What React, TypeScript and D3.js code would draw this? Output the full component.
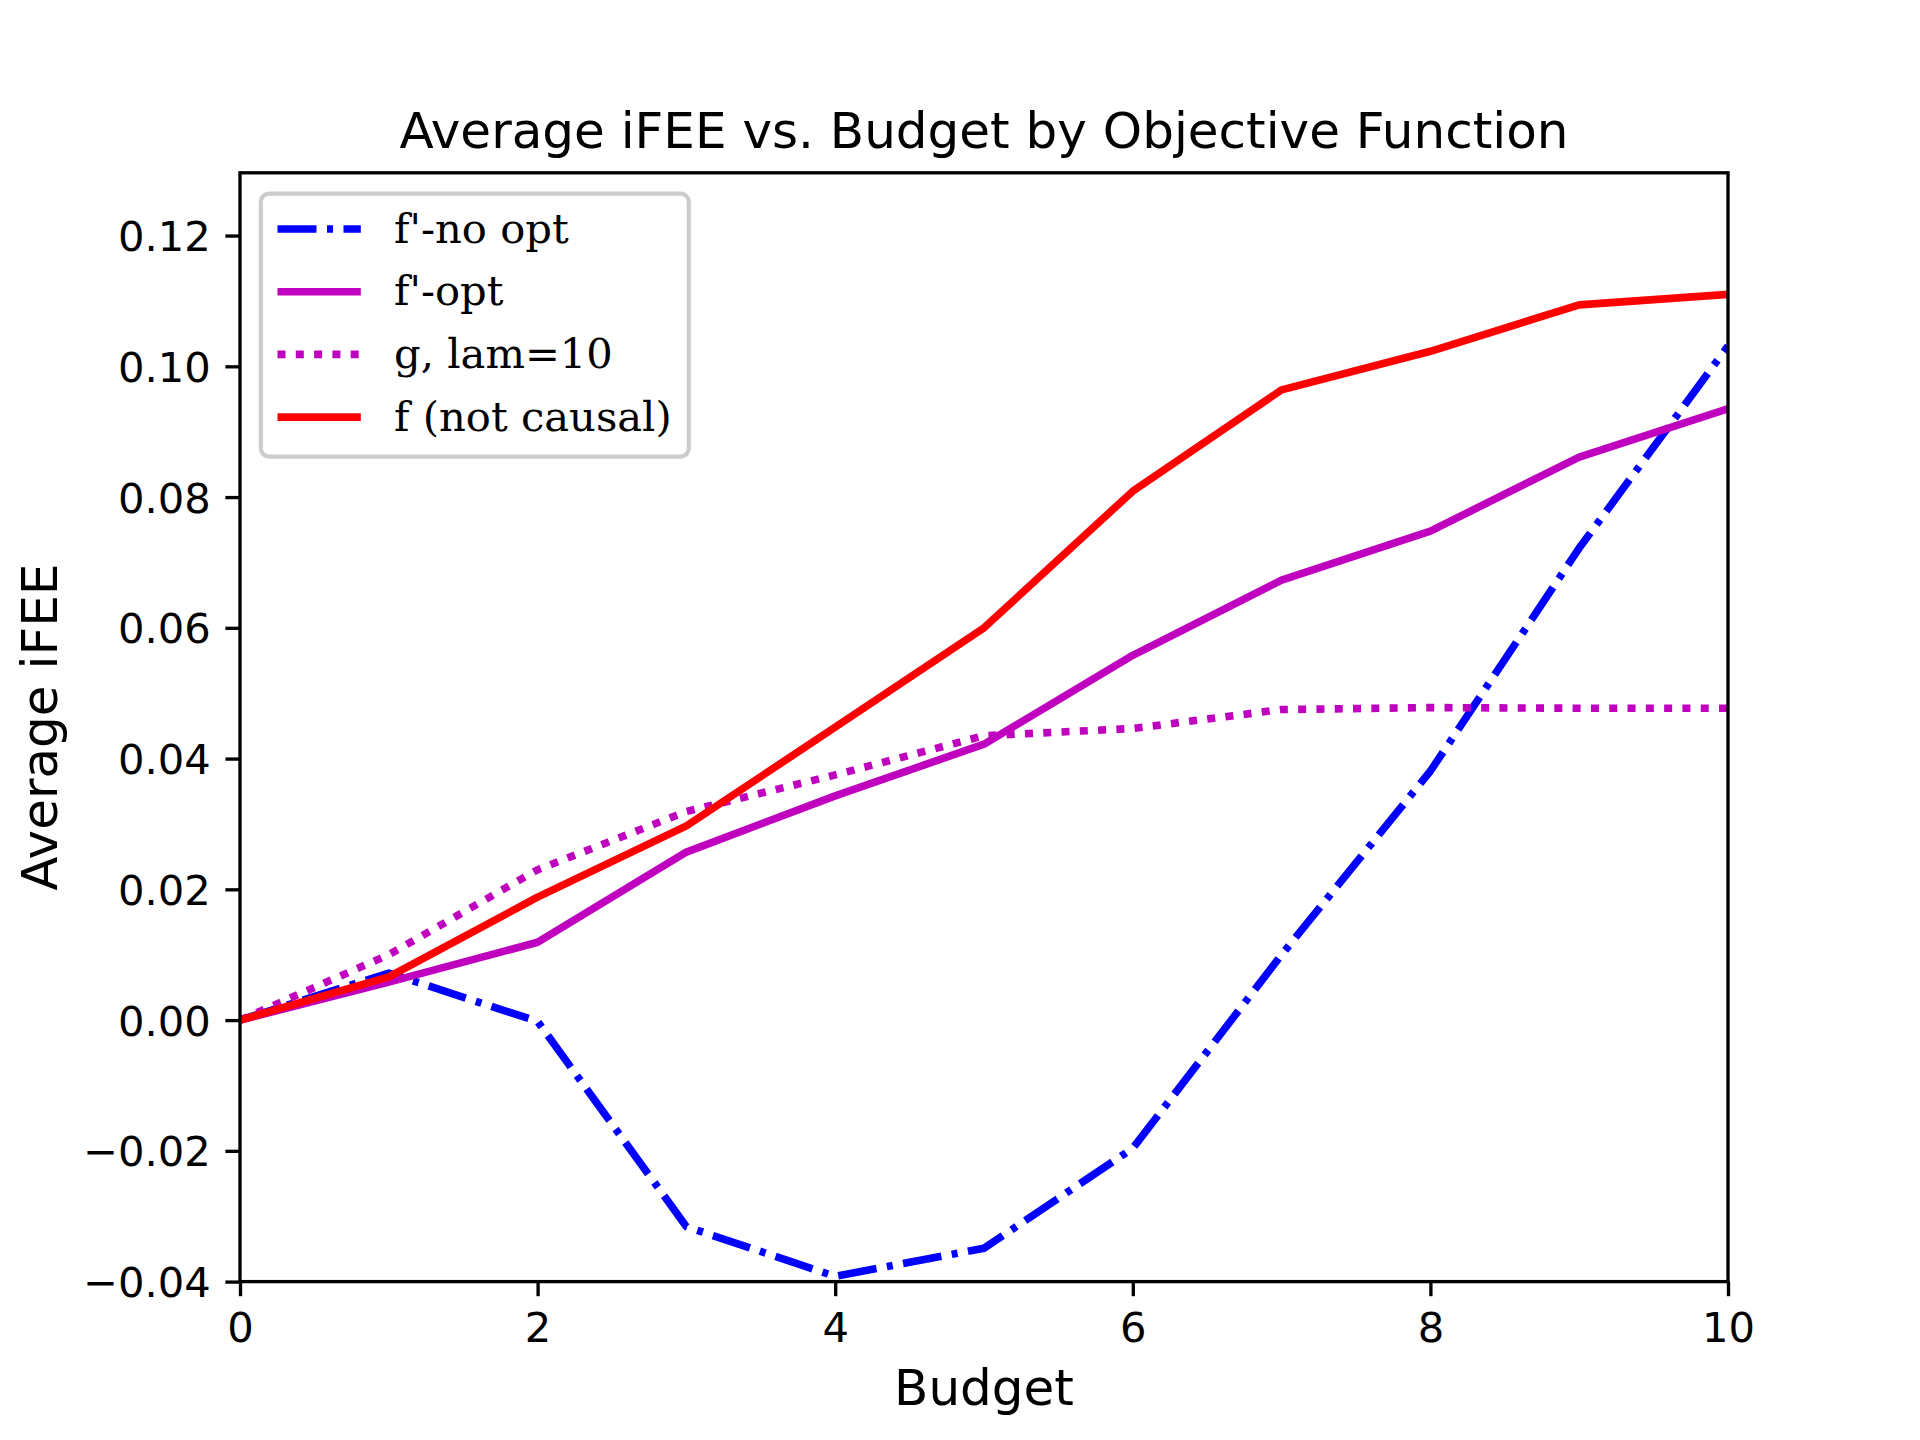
import React, { useEffect, useRef } from "react";
import * as d3 from "d3";

// values
const budget = [0, 1, 2, 3, 4, 5, 6, 7, 8, 9, 10];
const fNoOpt = [0, 0.0072, -0.0002, -0.0316, -0.0392, -0.0349, -0.0196, 0.01, 0.0381, 0.0722, 0.1031];
const fOpt = [0, 0.0058, 0.0119, 0.0257, 0.0343, 0.0422, 0.0558, 0.0673, 0.0748, 0.0861, 0.0935];
const gLam = [0, 0.01, 0.023, 0.0319, 0.0375, 0.0435, 0.0446, 0.0475, 0.0478, 0.0477, 0.0477];
const fNotCausal = [0, 0.0066, 0.0188, 0.0297, 0.0448, 0.06, 0.0809, 0.0964, 0.1023, 0.1094, 0.111];

const seriesLabels = ["f'-no opt", "f'-opt", "g, lam=10", "f (not causal)"];
const seriesColors = ["#0000ff", "#bf00bf", "#bf00bf", "#ff0000"];
const seriesDash = ["39,10.5,6,10.5", null, "8,10.3", null];
const seriesValues = [fNoOpt, fOpt, gLam, fNotCausal];

const xDomain = [0, 10];
const yDomain = [-0.04, 0.1296];

const W = 1920;
const H = 1440;
const margin = { top: 172.8, right: 192, bottom: 158.4, left: 240 };
const innerW = W - margin.left - margin.right;
const innerH = H - margin.top - margin.bottom;

const sans = "'DejaVu Sans', sans-serif";
const serif = "'DejaVu Serif', serif";
const tickFont = 41.67;
const labelFont = 50;
const lw = 7.6;

const App: React.FC = () => {
  const xAxisRef = useRef<SVGGElement | null>(null);
  const yAxisRef = useRef<SVGGElement | null>(null);

  const x = d3.scaleLinear().domain(xDomain).range([0, innerW]);
  const y = d3.scaleLinear().domain(yDomain).range([innerH, 0]);

  const line = d3
    .line<number>()
    .x((_, i) => x(budget[i]))
    .y((d) => y(d));

  useEffect(() => {
    if (!xAxisRef.current || !yAxisRef.current) return;
    const gx = d3.select(xAxisRef.current);
    gx.call(d3.axisBottom(x).ticks(6).tickSize(14.6).tickPadding(14.6).tickFormat(d3.format("d")));
    const gy = d3.select(yAxisRef.current);
    gy.call(d3.axisLeft(y).ticks(10).tickSize(14.6).tickPadding(14.6).tickFormat(d3.format(".2f")));

    for (const g of [gx, gy]) {
      g.attr("font-family", sans).attr("font-size", tickFont);
      g.select(".domain").remove();
      g.selectAll(".tick line").attr("stroke", "#000").attr("stroke-width", 3.33);
      g.selectAll(".tick text").attr("fill", "#000");
    }
    gx.selectAll(".tick text").attr("dy", "0.76em");
    gy.selectAll(".tick text").attr("dy", "0.36em");
  }, []);

  // legend layout (matplotlib-ish units at 300 dpi)
  const legX = 20.8;
  const legY = 20.8;
  const legW = 428;
  const legH = 263;
  const rowStep = 62.7;

  return (
    <div style={{ position: "absolute", left: 0, top: 0 }}>
      <svg width={W} height={H} style={{ display: "block", background: "#fff" }}>
        <rect width={W} height={H} fill="#fff" />
        <defs>
          <clipPath id="plot-clip">
            <rect width={innerW} height={innerH} />
          </clipPath>
        </defs>
        <text x={margin.left + innerW / 2} y={147.8} textAnchor="middle" fontFamily={sans} fontSize={labelFont}>
          Average iFEE vs. Budget by Objective Function
        </text>
        <g transform={`translate(${margin.left},${margin.top})`}>
          <g clipPath="url(#plot-clip)">
            {seriesValues.map((vals, i) => (
              <path
                key={seriesLabels[i]}
                d={line(vals) ?? ""}
                fill="none"
                stroke={seriesColors[i]}
                strokeWidth={lw}
                strokeDasharray={seriesDash[i] ?? undefined}
                strokeLinejoin="round"
                strokeLinecap={seriesDash[i] ? "butt" : "square"}
              />
            ))}
          </g>
          <rect width={innerW} height={innerH} fill="none" stroke="#000" strokeWidth={3.33} />
          <g ref={xAxisRef} transform={`translate(0,${innerH})`} />
          <g ref={yAxisRef} />

          <g transform={`translate(${legX},${legY})`}>
            <rect
              width={legW}
              height={legH}
              rx={8.3}
              ry={8.3}
              fill="#fff"
              fillOpacity={0.8}
              stroke="#cccccc"
              strokeWidth={4.17}
            />
            {seriesLabels.map((lab, i) => {
              const top = 16.7 + i * rowStep;
              return (
                <g key={lab}>
                  <line
                    x1={16.7}
                    x2={100}
                    y1={top + 18.7}
                    y2={top + 18.7}
                    stroke={seriesColors[i]}
                    strokeWidth={lw}
                    strokeDasharray={seriesDash[i] ?? undefined}
                  />
                  <text x={133.3} y={top + 32.4} fontFamily={serif} fontSize={tickFont}>
                    {lab}
                  </text>
                </g>
              );
            })}
          </g>
        </g>
        <text x={margin.left + innerW / 2} y={1405} textAnchor="middle" fontFamily={sans} fontSize={labelFont}>
          Budget
        </text>
        <text
          transform={`translate(57,${margin.top + innerH / 2}) rotate(-90)`}
          textAnchor="middle"
          fontFamily={sans}
          fontSize={labelFont}
        >
          Average iFEE
        </text>
      </svg>
    </div>
  );
};

export default App;
